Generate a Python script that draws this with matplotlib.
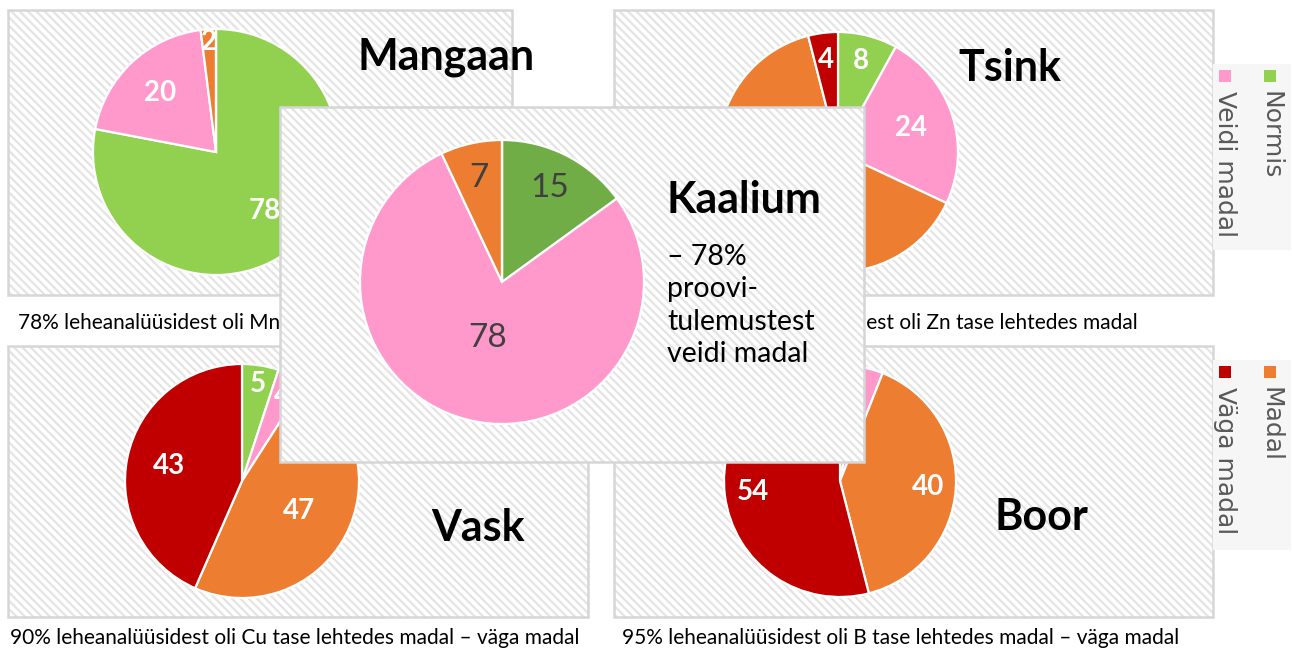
import matplotlib.pyplot as plt
from matplotlib.patches import Rectangle
import numpy as np

# data
categories = ["Normis", "Veidi madal", "Madal", "Väga madal"]
colors = ["#92D050", "#FF99CC", "#ED7D31", "#C00000"]
kaalium_colors = ["#70AD47", "#FF99CC", "#ED7D31", "#C00000"]

mangaan = [78, 20, 2, 0]
tsink = [8, 24, 64, 4]
vask = [5, 4, 47, 43]
boor = [3, 3, 40, 54]
kaalium = [15, 78, 7, 0]

captions = {
    "Mangaan": "78% leheanalüüsidest oli Mn tase lehtedes normis",
    "Tsink": "92% leheanalüüsidest oli Zn tase lehtedes madal",
    "Vask": "90% leheanalüüsidest oli Cu tase lehtedes madal – väga madal",
    "Boor": "95% leheanalüüsidest oli B tase lehtedes madal – väga madal",
}
kaalium_note = "– 78%\nproovi-\ntulemustest\nveidi madal"

W, H = 1292, 653
plt.rcParams["font.family"] = ["Lato", "DejaVu Sans"]
plt.rcParams["hatch.linewidth"] = 1.6
fig = plt.figure(figsize=(W / 100, H / 100), dpi=100)


def fx(x):
    return x / W


def fy(y):
    return 1 - y / H


def px_axes(x0, y0, x1, y1, z):
    ax = fig.add_axes([fx(x0), fy(y1), (x1 - x0) / W, (y1 - y0) / H], zorder=z)
    ax.set_axis_off()
    ax.patch.set_visible(False)
    return ax


def panel(x0, y0, x1, y1, z):
    ax = px_axes(x0, y0, x1, y1, z)
    ax.add_patch(Rectangle((0, 0), 1, 1, transform=ax.transAxes, facecolor="white",
                           edgecolor="none", clip_on=False))
    ax.add_patch(Rectangle((0, 0), 1, 1, transform=ax.transAxes, facecolor="none",
                           edgecolor="#e4e4e4", hatch="\\\\\\\\", lw=0, clip_on=False))
    ax.add_patch(Rectangle((0, 0), 1, 1, transform=ax.transAxes, facecolor="none",
                           edgecolor="#d6d6d6", lw=1.8, clip_on=False))
    return ax


def draw_pie(values, cols, cx, cy, r, z, dists, color="white", size=20, weight="bold"):
    ax = px_axes(cx - r, cy - r, cx + r, cy + r, z)
    wedges, _ = ax.pie(values, colors=cols, startangle=90, counterclock=False,
                       wedgeprops=dict(edgecolor="white", linewidth=1.6))
    ax.set_xlim(-1, 1)
    ax.set_ylim(-1, 1)
    for w, v, d in zip(wedges, values, dists):
        if v <= 0:
            continue
        ang = np.deg2rad((w.theta1 + w.theta2) / 2)
        ax.text(d * np.cos(ang), d * np.sin(ang), str(v), ha="center", va="center",
                color=color, fontsize=size, fontweight=weight)
    return ax


# top-left: Mangaan
panel(8, 10, 512, 295, 1)
draw_pie(mangaan, colors, 216, 152, 123, 1.5, [0.62, 0.66, 0.9, 0.7])
fig.text(fx(446), fy(57), "Mangaan", ha="center", va="center", fontsize=31,
         fontweight="bold", zorder=2)
fig.text(fx(18), fy(323), captions["Mangaan"], ha="left", va="center",
         fontsize=15, zorder=2)

# top-right: Tsink
panel(614, 10, 1213, 295, 1)
draw_pie(tsink, colors, 838, 152, 120, 1.5, [0.78, 0.64, 0.6, 0.77])
fig.text(fx(1010), fy(68), "Tsink", ha="center", va="center", fontsize=31,
         fontweight="bold", zorder=2)
fig.text(fx(1138), fy(323), captions["Tsink"], ha="right", va="center",
         fontsize=15, zorder=2)

# bottom-left: Vask
panel(8, 346, 588, 617, 1)
draw_pie(vask, colors, 242, 481, 117, 1.5, [0.84, 0.8, 0.55, 0.64])
fig.text(fx(478), fy(528), "Vask", ha="center", va="center", fontsize=31,
         fontweight="bold", zorder=2)
fig.text(fx(10), fy(638), captions["Vask"], ha="left", va="center",
         fontsize=15, zorder=2)

# bottom-right: Boor
panel(614, 346, 1213, 617, 1)
draw_pie(boor, colors, 840, 481, 116, 1.5, [0.5, 0.5, 0.76, 0.76])
fig.text(fx(1041), fy(517), "Boor", ha="center", va="center", fontsize=31,
         fontweight="bold", zorder=2)
fig.text(fx(622), fy(638), captions["Boor"], ha="left", va="center",
         fontsize=15, zorder=2)

# overlay: Kaalium
panel(280, 107, 864, 462, 5)
draw_pie(kaalium, kaalium_colors, 502, 282, 142, 6, [0.74, 0.41, 0.75, 0.7],
         color="#404040", size=24, weight="normal")
fig.text(fx(667), fy(200), "Kaalium", ha="left", va="center", fontsize=31,
         fontweight="bold", zorder=7)
fig.text(fx(667), fy(244), kaalium_note, ha="left", va="top", fontsize=20.5,
         linespacing=1.3, zorder=7)

# legends (rotated text)
leg = px_axes(0, 0, W, H, 8)
leg.set_xlim(0, W)
leg.set_ylim(H, 0)
for (y0, y1), pair in zip([(64, 250), (360, 550)], [(0, 1), (2, 3)]):
    leg.add_patch(Rectangle((1213, y0), 78, y1 - y0, facecolor="#f6f6f6",
                            edgecolor="none"))
    for x, i in zip([1270, 1225], pair):
        leg.add_patch(Rectangle((x - 6, y0 + 6), 12, 12, facecolor=colors[i],
                                edgecolor="none"))
        leg.text(x, y0 + 27, categories[i], rotation=-90, ha="center", va="top",
                 fontsize=18, color="#595959", family=["DejaVu Sans"])

fig.savefig("out.png", dpi=100)
